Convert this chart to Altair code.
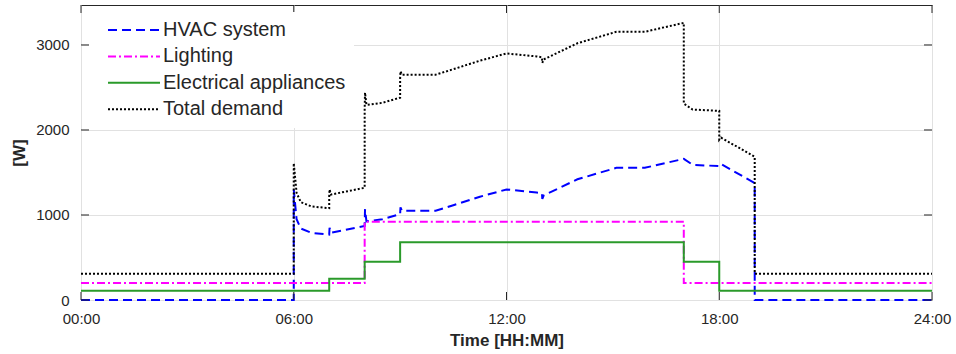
import altair as alt
import pandas as pd

# time of day [h]
times = [0.00, 6.00, 6.00, 6.08, 6.20, 6.50, 7.00, 7.00, 7.01, 7.05,
         8.00, 8.00, 8.01, 8.05, 8.50, 9.00, 9.00, 9.01, 9.05, 10.00,
         10.50, 11.25, 12.00, 12.85, 13.00, 13.01, 13.05, 14.00, 15.10, 15.90,
         17.00, 17.00, 17.25, 18.00, 18.00, 18.05, 19.00, 19.00, 24.00]
hvac = [0, 0, 1300, 950, 840, 790, 770, 770, 850, 790,
        870, 870, 1070, 925, 950, 1010, 1010, 1090, 1050, 1050,
        1115, 1215, 1300, 1265, 1255, 1190, 1230, 1420, 1555, 1555,
        1660, 1660, 1590, 1575, 1575, 1600, 1375, 0, 0]
lighting = [200, 200, 200, 200, 200, 200, 200, 200, 200, 200,
            200, 920, 920, 920, 920, 920, 920, 920, 920, 920,
            920, 920, 920, 920, 920, 920, 920, 920, 920, 920,
            920, 200, 200, 200, 200, 200, 200, 200, 200]
appliances = [110, 110, 110, 110, 110, 110, 110, 250, 250, 250,
              250, 450, 450, 450, 450, 450, 680, 680, 680, 680,
              680, 680, 680, 680, 680, 680, 680, 680, 680, 680,
              680, 450, 450, 450, 110, 110, 110, 110, 110]
total = [h + l + a for h, l, a in zip(hvac, lighting, appliances)]

series_names = ["HVAC system", "Lighting", "Electrical appliances", "Total demand"]
series_colors = ["#0000FF", "#FF00FF", "#2A9A2A", "#000000"]
series_dashes = [[9, 5], [8, 3, 2, 3], [1, 0], [2, 2]]
x_ticks = [0, 6, 12, 18, 24]
y_ticks = [0, 1000, 2000, 3000]

rows = []
for name, vals in zip(series_names, [hvac, lighting, appliances, total]):
    for i, (t, v) in enumerate(zip(times, vals)):
        rows.append({"series": name, "t": t, "w": v, "idx": i})
df = pd.DataFrame(rows)

W, H = 851, 295
x_scale = alt.Scale(domain=[0, 24], nice=False, zero=False)
y_scale = alt.Scale(domain=[0, 3470], nice=False)
TXT = "#262626"
FONT = "Liberation Sans"

lines = alt.Chart(df).mark_line(strokeWidth=2, clip=False).encode(
    x=alt.X("t:Q", scale=x_scale,
            axis=alt.Axis(values=x_ticks, title="Time [HH:MM]", labelFlush=False,
                          labelExpr="(datum.value < 10 ? '0' : '') + datum.value + ':00'")),
    y=alt.Y("w:Q", scale=y_scale, axis=alt.Axis(values=y_ticks, title="[W]", format="d")),
    color=alt.Color("series:N", scale=alt.Scale(domain=series_names, range=series_colors),
                    legend=alt.Legend(title=None)),
    strokeDash=alt.StrokeDash("series:N", scale=alt.Scale(domain=series_names, range=series_dashes),
                              legend=alt.Legend(title=None)),
    order="idx:Q",
)

xt = pd.DataFrame({"t": x_ticks})
yt = pd.DataFrame({"w": y_ticks})
tick_bottom = alt.Chart(xt).mark_rule(color=TXT, strokeWidth=1).encode(
    x=alt.X("t:Q", scale=x_scale), y=alt.value(H), y2=alt.value(H - 8))
tick_top = alt.Chart(xt).mark_rule(color=TXT, strokeWidth=1).encode(
    x=alt.X("t:Q", scale=x_scale), y=alt.value(0), y2=alt.value(8))
tick_left = alt.Chart(yt).mark_rule(color=TXT, strokeWidth=1).encode(
    y=alt.Y("w:Q", scale=y_scale), x=alt.value(0), x2=alt.value(8))
tick_right = alt.Chart(yt).mark_rule(color=TXT, strokeWidth=1).encode(
    y=alt.Y("w:Q", scale=y_scale), x=alt.value(W), x2=alt.value(W - 8))

chart = alt.layer(lines, tick_bottom, tick_top, tick_left, tick_right).properties(
    width=W, height=H,
    autosize=alt.AutoSizeParams(type="none"),
    padding={"left": 81, "top": 5, "right": 24, "bottom": 54},
    background="white",
).configure_view(
    stroke=TXT, strokeWidth=1
).configure_axis(
    labelFont=FONT, titleFont=FONT, labelColor=TXT, titleColor=TXT,
    labelFontSize=15, titleFontSize=17, titleFontWeight="bold",
    gridColor="#E1E1E1", gridWidth=1, domain=False, ticks=False,
).configure_axisX(
    labelPadding=11, titlePadding=6,
).configure_axisY(
    labelPadding=12, titlePadding=7,
).configure_legend(
    orient="none", legendX=8, legendY=7,
    fillColor="white", padding=8,
    labelFont=FONT, labelFontSize=20, labelColor=TXT, labelLimit=400,
    symbolType="stroke", symbolSize=2704, symbolStrokeWidth=2,
    symbolOffset=10, labelOffset=2, clipHeight=20, rowPadding=6.4,
)

chart.save("out.html", embed_options={"renderer": "svg", "actions": False})
